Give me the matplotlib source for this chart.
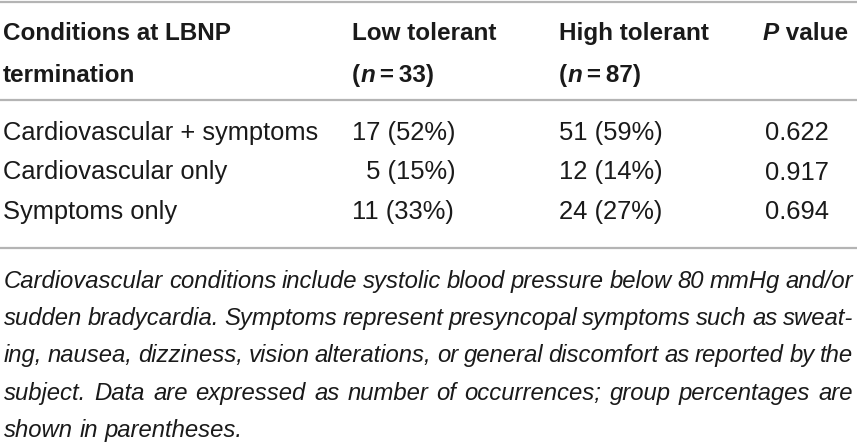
import matplotlib
matplotlib.use("Agg")
import matplotlib.pyplot as plt

plt.rcParams["font.family"] = ["Liberation Sans", "DejaVu Sans"]

header_left = ["Conditions at LBNP", "termination"]
groups = ["Low tolerant", "High tolerant"]
group_n = [33, 87]
conditions = ["Cardiovascular + symptoms", "Cardiovascular only", "Symptoms only"]
low_count = [17, 5, 11]
low_pct = [52, 15, 33]
high_count = [51, 12, 24]
high_pct = [59, 14, 27]
p_values = [0.622, 0.917, 0.694]
footnote_lines = [
    "Cardiovascular conditions include systolic blood pressure below 80 mmHg and/or",
    "sudden bradycardia. Symptoms represent presyncopal symptoms such as sweat-",
    "ing, nausea, dizziness, vision alterations, or general discomfort as reported by the",
    "subject. Data are expressed as number of occurrences; group percentages are",
    "shown in parentheses.",
]

W, H = 859, 447
TXT = "#1a1a1a"
RULE = "#b4b4b4"

fig = plt.figure(figsize=(W / 100, H / 100), dpi=100)
ax = fig.add_axes([0, 0, 1, 1])
ax.set_xlim(0, W)
ax.set_ylim(H, 0)
ax.axis("off")
renderer = fig.canvas.get_renderer()


def width_of(t):
    bb = t.get_window_extent(renderer)
    return bb.width


def runs(x, y, parts, size):
    # parts: (text, style, weight)
    for s, style, weight in parts:
        t = ax.text(x, y, s, fontsize=size, style=style, weight=weight,
                    color=TXT, va="baseline", ha="left")
        x += width_of(t)
    return x


def justified(y, line, size, x0, x1, last=False):
    words = line.split(" ")
    items = [ax.text(0, y, w, fontsize=size, style="italic", color=TXT,
                     va="baseline", ha="left") for w in words]
    widths = [width_of(t) for t in items]
    if last or len(words) < 2:
        sp = size * 100 / 72 * 0.278
    else:
        sp = (x1 - x0 - sum(widths)) / (len(words) - 1)
    x = x0
    for t, w in zip(items, widths):
        t.set_x(x)
        x += w + sp


# rules
for yy in (1.5, 99.5, 247.5):
    ax.plot([0, W - 2], [yy, yy], color=RULE, lw=1.6, solid_capstyle="butt")

col_x = [3, 352, 559, 763]
hs = 17.5
bs = 18.4
hy = [40, 82]

ax.text(col_x[0], hy[0], header_left[0], fontsize=hs, weight="bold", color=TXT, va="baseline")
ax.text(col_x[0], hy[1], header_left[1], fontsize=hs, weight="bold", color=TXT, va="baseline")
for i, g in enumerate(groups):
    ax.text(col_x[i + 1], hy[0], g, fontsize=hs, weight="bold", color=TXT, va="baseline")
    runs(col_x[i + 1], hy[1], [("(", "normal", "bold"), ("n", "italic", "bold"),
                               ("\u2009=\u200933)" if group_n[i] == 33 else "\u2009=\u2009%d)" % group_n[i],
                                "normal", "bold")], hs)
runs(col_x[3], hy[0], [("P", "italic", "bold"), (" value", "normal", "bold")], hs)

row_y = [140, 179.5, 219]
for i in range(len(conditions)):
    y = row_y[i]
    ax.text(col_x[0], y, conditions[i], fontsize=bs, color=TXT, va="baseline")
    for cx, cnt, pct in ((col_x[1], low_count[i], low_pct[i]), (col_x[2], high_count[i], high_pct[i])):
        s = "%d (%d%%)" % (cnt, pct)
        if cnt < 10:
            s = "\u2007" + s
        ax.text(cx, y, s, fontsize=bs, color=TXT, va="baseline")
    ax.text(col_x[3] + 2, y, "%.3f" % p_values[i], fontsize=bs, color=TXT, va="baseline")

fs = 17.2
foot_y0 = 288
for k, line in enumerate(footnote_lines):
    justified(foot_y0 + k * 37.2, line, fs, 4, 853, last=(k == len(footnote_lines) - 1))

fig.savefig("out.png", dpi=100)
